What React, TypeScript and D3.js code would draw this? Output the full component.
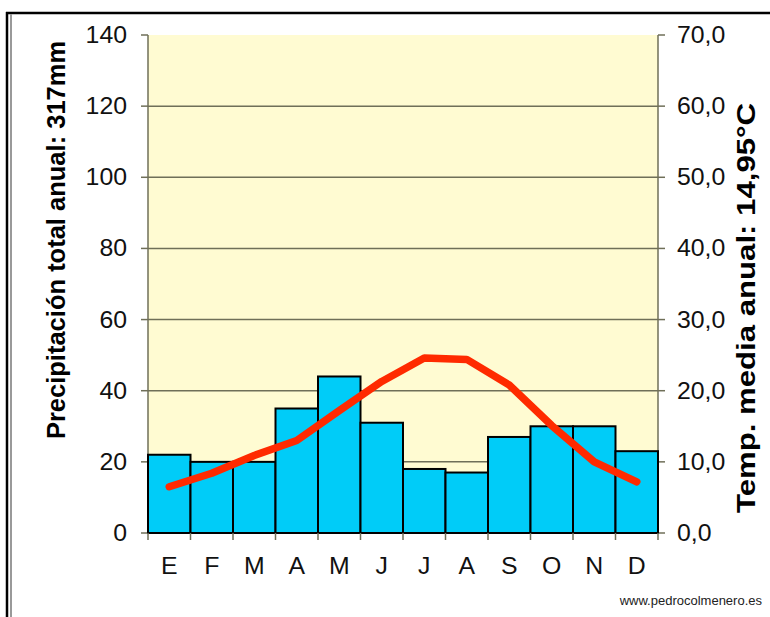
import React from "react";
import * as d3 from "d3";

const months = ["E", "F", "M", "A", "M", "J", "J", "A", "S", "O", "N", "D"];
const precipitation = [22, 20, 20, 35, 44, 31, 18, 17, 27, 30, 30, 23];
const temperature = [6.5, 8.4, 10.9, 13.0, 17.2, 21.3, 24.6, 24.4, 20.8, 15.1, 10.0, 7.2];
const precipTicks = [0, 20, 40, 60, 80, 100, 120, 140];
const tempTicks = [0, 10, 20, 30, 40, 50, 60, 70];
const leftTitle = "Precipitación total anual: 317mm";
const rightTitle = "Temp. media anual: 14,95°C";
const credit = "www.pedrocolmenero.es";

const W = 770;
const H = 617;
const plot = { left: 148, right: 658, top: 35, bottom: 533 };
const FONT = "'Liberation Sans', Arial, Helvetica, sans-serif";

export default function App() {
  const idx = months.map((_, i) => i);
  const x = d3.scaleBand<number>().domain(idx).range([plot.left, plot.right]).padding(0);
  const yP = d3.scaleLinear().domain([0, 140]).range([plot.bottom, plot.top]);
  const yT = d3.scaleLinear().domain([0, 70]).range([plot.bottom, plot.top]);
  const line = d3
    .line<number>()
    .x((_, i) => (x(i) as number) + x.bandwidth() / 2)
    .y((d) => yT(d));
  const axisColor = "#6f6f58";
  const boundaries = d3.range(months.length + 1).map((i) => plot.left + i * x.bandwidth());

  return (
    <svg
      width={W}
      height={H}
      style={{ position: "absolute", left: 0, top: 0, background: "#fff" }}
      fontFamily={FONT}
    >
      {/* frame */}
      <line x1={6} x2={W} y1={13} y2={13} stroke="#000" strokeWidth={2.5} />
      <line x1={7} x2={7} y1={12} y2={H} stroke="#000" strokeWidth={2.5} />
      <line x1={11} x2={11} y1={14} y2={H} stroke="#999" strokeWidth={2} />

      {/* plot background */}
      <rect
        x={plot.left}
        y={plot.top}
        width={plot.right - plot.left}
        height={plot.bottom - plot.top}
        fill="#fffbd2"
      />

      {/* gridlines + ticks */}
      {precipTicks.map((t) => (
        <g key={"g" + t}>
          {t > 0 && t < 140 && (
            <line x1={plot.left} x2={plot.right} y1={yP(t)} y2={yP(t)} stroke={axisColor} strokeWidth={1.5} />
          )}
          <line x1={plot.left - 7} x2={plot.left} y1={yP(t)} y2={yP(t)} stroke={axisColor} strokeWidth={1.5} />
          <text
            transform={`translate(127, ${yP(t) + 8}) scale(1.08, 1)`}
            textAnchor="end"
            fontSize={23}
            fill="#111"
          >
            {t}
          </text>
        </g>
      ))}
      {tempTicks.map((t) => (
        <g key={"t" + t}>
          <line x1={plot.right} x2={plot.right + 7} y1={yT(t)} y2={yT(t)} stroke={axisColor} strokeWidth={1.5} />
          <text
            transform={`translate(677, ${yT(t) + 8}) scale(1.08, 1)`}
            textAnchor="start"
            fontSize={23}
            fill="#111"
          >
            {t.toFixed(1).replace(".", ",")}
          </text>
        </g>
      ))}

      {/* axes */}
      <line x1={plot.left} x2={plot.left} y1={plot.top} y2={plot.bottom} stroke={axisColor} strokeWidth={1.5} />
      <line x1={plot.right} x2={plot.right} y1={plot.top} y2={plot.bottom} stroke={axisColor} strokeWidth={1.5} />

      {/* bars */}
      {precipitation.map((v, i) => (
        <rect
          key={"b" + i}
          x={x(i)}
          y={yP(v)}
          width={x.bandwidth()}
          height={plot.bottom - yP(v)}
          fill="#00ccf8"
          stroke="#000"
          strokeWidth={2}
        />
      ))}

      {/* bottom axis */}
      <line x1={plot.left} x2={plot.right} y1={plot.bottom} y2={plot.bottom} stroke="#000" strokeWidth={2} />
      {boundaries.map((bx, i) => (
        <line key={"bt" + i} x1={bx} x2={bx} y1={plot.bottom} y2={plot.bottom + 7} stroke={axisColor} strokeWidth={1.5} />
      ))}
      {months.map((m, i) => (
        <text
          key={"m" + i}
          transform={`translate(${(x(i) as number) + x.bandwidth() / 2}, 574) scale(1.08, 1)`}
          textAnchor="middle"
          fontSize={23}
          fill="#111"
        >
          {m}
        </text>
      ))}

      {/* temperature line */}
      <path
        d={line(temperature) || ""}
        fill="none"
        stroke="#ff2a00"
        strokeWidth={7.5}
        strokeLinejoin="round"
        strokeLinecap="round"
      />

      {/* titles */}
      <text
        transform={`translate(65, 240) rotate(-90)`}
        textAnchor="middle"
        fontSize={25.5}
        fontWeight="bold"
        fill="#000"
      >
        {leftTitle}
      </text>
      <text
        transform={`translate(755, 308) rotate(-90)`}
        textAnchor="middle"
        fontSize={25.5}
        fontWeight="bold"
        fill="#000"
        textLength={410}
        lengthAdjust="spacingAndGlyphs"
      >
        {rightTitle}
      </text>

      <text x={762} y={605} textAnchor="end" fontSize={13} fill="#222">
        {credit}
      </text>
    </svg>
  );
}
